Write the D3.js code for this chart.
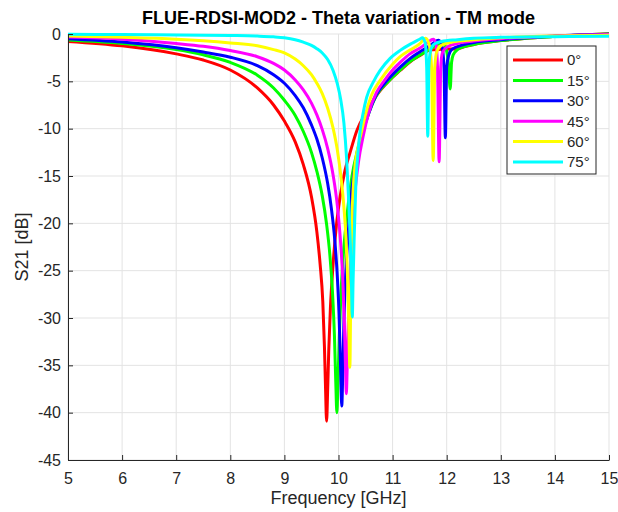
<!doctype html>
<meta charset='utf-8'>
<style>
  body { margin: 0; background: #fff; }
  text { font-family: 'Liberation Sans', Arial, Helvetica, sans-serif; fill: #262626; }
</style>
<body>
<script src='https://cdnjs.cloudflare.com/ajax/libs/d3/7.8.5/d3.min.js'></script>
<script>

// legend labels for the incidence angles
var angles = ['0°', '15°', '30°', '45°', '60°', '75°'];
var colors = ['#ff0000', '#00ff00', '#0000ff', '#ff00ff', '#ffff00', '#00ffff'];

var xTicks = [5, 6, 7, 8, 9, 10, 11, 12, 13, 14, 15];
var yTicks = [0, -5, -10, -15, -20, -25, -30, -35, -40, -45];

// [frequency GHz, S21 dB]
var s21_0 = [[5,-0.78],[6,-1.25],[7,-2.1],[7.5,-2.75],[8,-3.8],[8.5,-5.7],[8.8,-7.5],[9,-9.2],[9.2,-11.4],
  [9.35,-13.8],[9.5,-17.2],[9.6,-20.9],[9.66,-24.3],[9.71,-28.3],[9.74,-33.0],[9.76,-37.3],[9.78,-40.9],
  [9.8,-37.5],[9.82,-33.4],[9.85,-29.0],[9.9,-24.3],[9.96,-20.3],[10.03,-17.2],[10.12,-14.4],[10.21,-12.6],
  [10.34,-10.2],[10.52,-8.2],[10.7,-6.5],[10.93,-4.95],[11.14,-3.85],[11.32,-2.95],[11.5,-2.3],[11.7,-1.7],
  [12,-1.6],[12.2,-1.55],[12.35,-1.3],[12.5,-1.1],[13,-0.7],[14,-0.25],[14.5,-0.1],[15,0.02]];

var s21_15 = [[5,-0.64],[6,-1.0],[7,-1.65],[7.5,-2.2],[8,-3.0],[8.5,-4.35],[8.8,-5.7],[9,-7.0],[9.2,-8.6],
  [9.35,-10.3],[9.5,-12.5],[9.6,-14.5],[9.7,-17.1],[9.78,-20.1],[9.84,-23.3],[9.89,-27.4],[9.925,-31.9],
  [9.95,-36.8],[9.97,-40],[9.99,-36.8],[10.015,-31.9],[10.05,-27],[10.1,-22.5],[10.16,-19],[10.25,-15],
  [10.35,-12.3],[10.45,-10.2],[10.55,-8.5],[10.7,-6.5],[10.93,-4.95],[11.14,-3.8],[11.32,-2.9],[11.5,-2.25],
  [11.7,-1.55],[11.85,-1.05],[11.92,-0.85],[11.98,-1.4],[12.03,-3.0],[12.065,-5.8],[12.09,-3.0],[12.12,-2.2],
  [12.2,-1.65],[12.35,-1.3],[12.5,-1.1],[13,-0.7],[14,-0.25],[15,0]];

var s21_30 = [[5,-0.5],[6,-0.85],[7,-1.45],[7.5,-1.9],[8,-2.45],[8.5,-3.35],[8.8,-4.3],[9,-5.2],[9.2,-6.5],
  [9.35,-7.8],[9.5,-9.6],[9.6,-11.1],[9.7,-13.1],[9.8,-15.8],[9.87,-18.5],[9.93,-21.7],[9.98,-25.8],
  [10.01,-29.6],[10.04,-35.5],[10.06,-39.3],[10.08,-35.5],[10.1,-30.5],[10.13,-25.8],[10.18,-21],[10.25,-16.3],
  [10.35,-12.7],[10.46,-10.2],[10.55,-8.5],[10.7,-6.4],[10.9,-4.9],[11.14,-3.5],[11.32,-2.6],[11.5,-1.9],
  [11.7,-1.2],[11.85,-0.65],[11.91,-1.2],[11.95,-3.5],[11.975,-10.95],[12,-3.5],[12.04,-2.2],[12.1,-1.6],
  [12.3,-1.15],[12.5,-0.9],[13,-0.6],[14,-0.2],[15,-0.02]];

var s21_45 = [[5,-0.33],[6,-0.55],[7,-1.0],[7.5,-1.3],[8,-1.75],[8.5,-2.4],[8.8,-3.1],[9,-3.8],[9.2,-4.85],
  [9.35,-5.9],[9.5,-7.3],[9.6,-8.55],[9.7,-10.1],[9.8,-12.1],[9.9,-14.9],[9.98,-18.2],[10.04,-22.1],
  [10.08,-26],[10.11,-30.8],[10.13,-35.3],[10.145,-38],[10.16,-35.3],[10.18,-30.8],[10.21,-26],[10.25,-21],
  [10.3,-17],[10.37,-13.5],[10.46,-10.7],[10.55,-8.5],[10.7,-6.2],[10.85,-4.9],[11,-3.8],[11.14,-3.0],
  [11.32,-2.1],[11.5,-1.5],[11.65,-0.9],[11.75,-0.55],[11.8,-1.0],[11.83,-3.5],[11.86,-13.5],[11.89,-3.5],
  [11.92,-2.0],[12,-1.4],[12.2,-1.0],[12.5,-0.75],[13,-0.5],[14,-0.2],[15,-0.05]];

var s21_60 = [[5,-0.22],[6,-0.35],[7,-0.55],[7.5,-0.72],[8,-0.95],[8.5,-1.25],[8.8,-1.65],[9,-2.0],[9.2,-2.65],
  [9.35,-3.35],[9.5,-4.3],[9.6,-5.2],[9.7,-6.3],[9.8,-7.85],[9.9,-9.95],[9.98,-12.3],[10.05,-15.3],[10.1,-18.3],
  [10.14,-21.7],[10.17,-26.3],[10.19,-30.8],[10.21,-35.2],[10.225,-28.5],[10.24,-21.5],[10.27,-16.5],
  [10.31,-13.7],[10.37,-11.7],[10.43,-10.2],[10.49,-8.7],[10.6,-6.6],[10.77,-4.9],[11,-3.2],[11.14,-2.4],
  [11.32,-1.7],[11.5,-1.05],[11.61,-0.45],[11.68,-1.2],[11.72,-3.5],[11.75,-13.35],[11.78,-3.5],[11.82,-1.8],
  [11.9,-1.2],[12.1,-0.85],[12.5,-0.6],[13,-0.4],[14,-0.2],[15,-0.12]];

var s21_75 = [[5,-0.03],[6,-0.06],[7,-0.1],[8,-0.16],[8.5,-0.22],[8.8,-0.3],[9,-0.4],[9.2,-0.6],[9.35,-0.86],
  [9.5,-1.2],[9.6,-1.55],[9.7,-2.0],[9.8,-2.7],[9.9,-3.85],[9.98,-5.3],[10.04,-6.9],[10.1,-9.4],[10.15,-13.2],
  [10.19,-17.8],[10.22,-22.3],[10.24,-26.5],[10.255,-29.9],[10.27,-26],[10.29,-21.5],[10.32,-16],[10.35,-13.2],
  [10.4,-10.2],[10.45,-8.5],[10.52,-6.7],[10.65,-5.0],[10.77,-3.85],[10.95,-2.6],[11.14,-1.73],[11.35,-1.0],
  [11.5,-0.55],[11.55,-0.4],[11.6,-0.9],[11.63,-3.5],[11.65,-10.8],[11.67,-3.5],[11.7,-1.8],[11.76,-1.1],
  [11.9,-0.8],[12.2,-0.6],[12.5,-0.45],[13,-0.35],[14,-0.28],[15,-0.25]];

var series = [s21_0, s21_15, s21_30, s21_45, s21_60, s21_75];

var margin = {top: 34, right: 9, bottom: 52, left: 68};
var W = 618, H = 512,
    width = W - margin.left - margin.right,
    height = H - margin.top - margin.bottom;

var svg = d3.select('body').append('svg')
    .attr('width', W)
    .attr('height', H);

var g = svg.append('g')
    .attr('transform', 'translate(' + margin.left + ',' + margin.top + ')');

var x = d3.scaleLinear().domain([5, 15]).range([0, width]);
var y = d3.scaleLinear().domain([-45, 0]).range([height, 0]);

// grid
var grid = g.append('g').attr('class', 'grid');
grid.selectAll('line.gx')
    .data(xTicks)
    .enter().append('line')
    .attr('x1', d => x(d)).attr('x2', d => x(d))
    .attr('y1', 0).attr('y2', height);
grid.selectAll('line.gy')
    .data(yTicks)
    .enter().append('line')
    .attr('x1', 0).attr('x2', width)
    .attr('y1', d => y(d)).attr('y2', d => y(d));
grid.selectAll('line')
    .attr('stroke', '#e3e3e3')
    .attr('stroke-width', 1);

svg.append('clipPath').attr('id', 'clip')
  .append('rect')
    .attr('x', 0).attr('y', -3)
    .attr('width', width).attr('height', height + 3);

var line = d3.line()
    .x(d => x(d[0]))
    .y(d => y(d[1]))
    .curve(d3.curveMonotoneX);

g.append('g')
    .attr('clip-path', 'url(#clip)')
    .selectAll('path')
    .data(series)
    .enter().append('path')
    .attr('d', line)
    .attr('fill', 'none')
    .attr('stroke', (d, i) => colors[i])
    .attr('stroke-width', 3)
    .attr('stroke-linejoin', 'round');

// axes, ticks pointing inward like matlab
var xAxis = g.append('g')
    .attr('transform', 'translate(0,' + height + ')')
    .call(d3.axisBottom(x).tickValues(xTicks).tickFormat(String).tickSize(-5).tickPadding(13).tickSizeOuter(0));
var yAxis = g.append('g')
    .call(d3.axisLeft(y).tickValues(yTicks).tickFormat(String).tickSize(-5).tickPadding(7).tickSizeOuter(0));

[xAxis, yAxis].forEach(function(a) {
  a.select('.domain').attr('stroke', '#262626');
  a.selectAll('.tick line').attr('stroke', '#262626');
  a.selectAll('.tick text')
    .style('font-size', '16px')
    .style('font-family', "'Liberation Sans', Arial, sans-serif")
    .attr('fill', '#262626');
});

svg.append('text')
    .attr('x', margin.left + width / 2)
    .attr('y', 24)
    .attr('text-anchor', 'middle')
    .style('font-size', '18px')
    .style('font-weight', 'bold')
    .style('fill', '#000')
    .text('FLUE-RDSI-MOD2 - Theta variation - TM mode');

svg.append('text')
    .attr('x', margin.left + width / 2)
    .attr('y', 504)
    .attr('text-anchor', 'middle')
    .style('font-size', '18px')
    .text('Frequency [GHz]');

svg.append('text')
    .attr('transform', 'translate(28,' + (margin.top + height / 2) + ') rotate(-90)')
    .attr('text-anchor', 'middle')
    .style('font-size', '18px')
    .text('S21 [dB]');

// legend
var legend = svg.append('g').attr('transform', 'translate(507,46)');
legend.append('rect')
    .attr('width', 89).attr('height', 128)
    .attr('fill', '#fff')
    .attr('stroke', '#262626')
    .attr('stroke-width', 1);

var item = legend.selectAll('g.item')
    .data(angles)
    .enter().append('g')
    .attr('class', 'item')
    .attr('transform', (d, i) => 'translate(0,' + (14 + i * 20.4) + ')');
item.append('line')
    .attr('x1', 6).attr('x2', 56)
    .attr('stroke', (d, i) => colors[i])
    .attr('stroke-width', 3);
item.append('text')
    .attr('x', 60)
    .attr('dy', '0.36em')
    .style('font-size', '15px')
    .text(d => d);

</script>
</body>
